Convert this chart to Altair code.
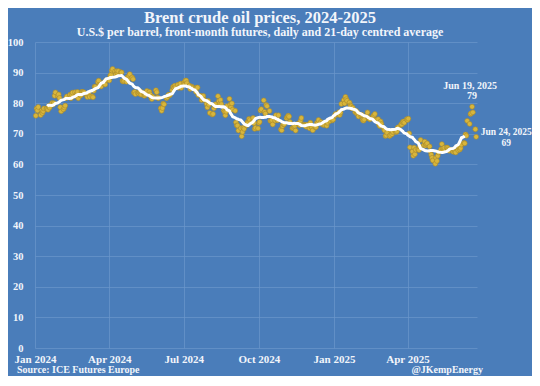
import altair as alt
import pandas as pd

# ---- data: Brent front-month daily settlements ----
DAYS_2024 = [
    "01-02","01-03","01-04","01-05","01-08","01-09","01-10","01-11","01-12","01-15","01-16","01-17","01-18","01-19","01-22","01-23","01-24","01-25","01-26","01-29","01-30","01-31",
    "02-01","02-02","02-05","02-06","02-07","02-08","02-09","02-12","02-13","02-14","02-15","02-16","02-19","02-20","02-21","02-22","02-23","02-26","02-27","02-28","02-29",
    "03-01","03-04","03-05","03-06","03-07","03-08","03-11","03-12","03-13","03-14","03-15","03-18","03-19","03-20","03-21","03-22","03-25","03-26","03-27","03-28",
    "04-01","04-02","04-03","04-04","04-05","04-08","04-09","04-10","04-11","04-12","04-15","04-16","04-17","04-18","04-19","04-22","04-23","04-24","04-25","04-26","04-29","04-30",
    "05-01","05-02","05-03","05-06","05-07","05-08","05-09","05-10","05-13","05-14","05-15","05-16","05-17","05-20","05-21","05-22","05-23","05-24","05-28","05-29","05-30","05-31",
    "06-03","06-04","06-05","06-06","06-07","06-10","06-11","06-12","06-13","06-14","06-17","06-18","06-19","06-20","06-21","06-24","06-25","06-26","06-27","06-28",
    "07-01","07-02","07-03","07-04","07-05","07-08","07-09","07-10","07-11","07-12","07-15","07-16","07-17","07-18","07-19","07-22","07-23","07-24","07-25","07-26","07-29","07-30","07-31",
    "08-01","08-02","08-05","08-06","08-07","08-08","08-09","08-12","08-13","08-14","08-15","08-16","08-19","08-20","08-21","08-22","08-23","08-26","08-27","08-28","08-29","08-30",
    "09-02","09-03","09-04","09-05","09-06","09-09","09-10","09-11","09-12","09-13","09-16","09-17","09-18","09-19","09-20","09-23","09-24","09-25","09-26","09-27","09-30",
    "10-01","10-02","10-03","10-04","10-07","10-08","10-09","10-10","10-11","10-14","10-15","10-16","10-17","10-18","10-21","10-22","10-23","10-24","10-25","10-28","10-29","10-30","10-31",
    "11-01","11-04","11-05","11-06","11-07","11-08","11-11","11-12","11-13","11-14","11-15","11-18","11-19","11-20","11-21","11-22","11-25","11-26","11-27","11-28","11-29",
    "12-02","12-03","12-04","12-05","12-06","12-09","12-10","12-11","12-12","12-13","12-16","12-17","12-18","12-19","12-20","12-23","12-24","12-27","12-30","12-31",
]
PRICES_2024 = [
    75.89,78.25,77.59,78.76,76.12,77.59,76.80,77.41,78.29,78.15,78.29,77.88,79.10,78.56,80.06,79.55,80.04,82.43,83.55,82.40,82.87,81.71,
    78.70,77.33,77.99,78.59,79.21,81.63,82.19,82.00,82.77,81.60,82.86,83.47,83.56,82.34,83.03,83.67,81.62,82.53,83.65,83.68,83.62,
    83.55,82.80,82.04,82.96,82.96,82.08,82.21,81.92,84.03,85.42,85.34,86.89,87.38,85.95,85.78,85.43,86.75,86.25,86.09,87.48,
    87.42,88.92,89.35,90.65,91.17,90.38,89.42,90.48,89.74,90.45,90.10,90.02,87.29,87.11,87.29,87.00,88.42,88.02,89.01,89.50,88.40,87.86,
    83.44,83.67,82.96,83.33,83.16,83.58,83.88,82.79,83.36,82.38,82.75,83.27,83.98,83.71,82.88,81.90,81.36,82.12,84.22,83.60,81.86,81.62,
    78.36,77.52,78.41,79.87,79.62,81.63,81.92,82.60,82.75,82.62,84.25,85.33,85.07,85.71,85.24,86.01,85.01,85.25,86.39,85.00,
    86.60,86.24,87.34,87.43,86.54,85.75,84.66,85.08,85.40,85.03,84.85,83.73,85.08,85.11,82.63,82.40,81.01,81.71,82.37,81.13,79.78,78.63,80.72,
    79.52,76.81,76.30,76.48,78.33,79.16,79.66,82.30,80.69,79.76,81.04,79.68,77.66,77.20,76.05,77.22,79.02,81.43,79.55,78.65,79.94,77.90,
    77.52,73.75,72.70,72.69,71.06,71.84,69.19,70.61,71.97,71.61,72.75,73.70,73.65,74.88,74.49,73.90,75.17,73.46,71.60,71.98,71.77,
    73.56,73.90,77.62,78.05,80.93,77.18,76.58,79.40,79.04,77.46,74.25,74.22,74.45,73.06,74.29,76.04,74.96,74.38,76.05,71.42,71.12,72.55,73.16,
    73.10,75.08,75.53,75.92,75.63,73.87,71.83,71.89,72.28,72.56,71.04,73.30,73.31,72.81,74.23,75.17,73.01,72.81,72.83,72.28,72.94,
    71.83,73.62,72.31,72.09,71.12,72.14,72.19,73.52,73.41,74.49,73.91,73.19,73.39,72.88,72.94,72.63,73.58,74.17,74.39,74.64,
]
DAYS_2025 = [
    "01-02","01-03","01-06","01-07","01-08","01-09","01-10","01-13","01-14","01-15","01-16","01-17","01-20","01-21","01-22","01-23","01-24","01-27","01-28","01-29","01-30","01-31",
    "02-03","02-04","02-05","02-06","02-07","02-10","02-11","02-12","02-13","02-14","02-17","02-18","02-19","02-20","02-21","02-24","02-25","02-26","02-27","02-28",
    "03-03","03-04","03-05","03-06","03-07","03-10","03-11","03-12","03-13","03-14","03-17","03-18","03-19","03-20","03-21","03-24","03-25","03-26","03-27","03-28","03-31",
    "04-01","04-02","04-03","04-04","04-07","04-08","04-09","04-10","04-11","04-14","04-15","04-16","04-17","04-21","04-22","04-23","04-24","04-25","04-28","04-29","04-30",
    "05-01","05-02","05-05","05-06","05-07","05-08","05-09","05-12","05-13","05-14","05-15","05-16","05-19","05-20","05-21","05-22","05-23","05-27","05-28","05-29","05-30",
    "06-02","06-03","06-04","06-05","06-06","06-09","06-10","06-11","06-12","06-13","06-16","06-17","06-18","06-19","06-20","06-23","06-24",
]
PRICES_2025 = [
    75.93,76.51,76.30,77.05,76.16,76.92,79.76,81.01,79.92,82.03,81.29,80.79,80.15,79.29,79.00,78.29,78.50,77.08,77.49,76.58,76.87,75.67,
    75.96,76.20,74.61,74.29,74.66,75.87,77.00,75.18,75.02,74.74,75.22,75.84,76.04,76.48,74.43,74.78,73.02,72.53,74.04,73.18,
    71.62,71.04,69.30,69.46,70.36,69.28,69.56,70.95,69.88,70.58,71.07,70.56,70.78,72.00,72.16,73.00,73.02,73.79,74.03,73.63,74.74,
    74.49,74.95,70.14,65.58,64.21,62.82,65.48,63.33,64.76,64.88,64.67,65.85,67.96,66.26,67.44,66.12,66.55,66.87,65.86,64.25,63.12,
    62.13,61.29,60.23,62.15,61.12,62.84,63.91,64.96,66.63,65.09,64.53,65.41,65.54,65.38,64.91,64.44,64.78,64.09,64.90,64.15,63.90,
    64.63,65.63,64.86,65.34,66.47,67.04,66.87,69.77,69.36,74.23,73.23,76.45,76.70,78.85,77.01,71.48,69.00,
]

ANNOT_DATES = ["2025-06-19", "2025-06-24"]
ANNOT_DATE_LABELS = ["Jun 19, 2025", "Jun 24, 2025"]
ANNOT_VALUES = [79, 69]

TITLE = "Brent crude oil prices, 2024-2025"
SUBTITLE = "U.S.$ per barrel, front-month futures, daily and 21-day centred average"
SOURCE = "Source: ICE Futures Europe"
CREDIT = "@JKempEnergy"

# ---- frames ----
dates = ["2024-" + d for d in DAYS_2024] + ["2025-" + d for d in DAYS_2025]
prices = PRICES_2024 + PRICES_2025
df = pd.DataFrame({"date": dates, "price": prices})
ann = pd.DataFrame({"date": ANNOT_DATES, "label": ANNOT_DATE_LABELS, "value": ANNOT_VALUES})
ann["vtxt"] = [str(v) for v in ANNOT_VALUES]

BG = "#4a7dba"
GRID = "#6c97cb"
FONT = "Liberation Serif"
WHITE = "#f2f5fa"

xscale = alt.Scale(type="utc",
                   domain=[alt.DateTime(year=2024, month=1, date=1, utc=True),
                           alt.DateTime(year=2025, month=6, date=25, utc=True)])
yscale = alt.Scale(domain=[0, 100])
xticks = [alt.DateTime(year=y, month=m, date=1, utc=True)
          for (y, m) in [(2024, 1), (2024, 4), (2024, 7), (2024, 10), (2025, 1), (2025, 4)]]

xaxis = alt.Axis(values=xticks, labelExpr="utcFormat(datum.value, '%b %Y')", grid=True,
                 labelFlush=False, labelAlign="center", labelPadding=5, labelFontSize=11,
                 labelOverlap=False, ticks=False, domain=False)
yaxis = alt.Axis(values=list(range(0, 101, 10)), grid=True, ticks=False,
                 labelOverlap=False, domain=False, labelPadding=12)


def X():
    return alt.X("date:T", scale=xscale, title=None, axis=xaxis)


def Y(field):
    return alt.Y(field, scale=yscale, title=None, axis=yaxis)


base = alt.Chart(df)

points = base.mark_circle(size=24, color="#d8b63c", opacity=1,
                          stroke="#a98a2a", strokeWidth=0.6).encode(x=X(), y=Y("price:Q"))

avg = base.transform_window(
    avg="mean(price)", n="count()", frame=[-10, 10], sort=[alt.SortField("date")]
).transform_filter("datum.n == 21").mark_line(
    color="white", strokeWidth=3
).encode(x=X(), y=Y("avg:Q"))

ann_base = alt.Chart(ann)
a1 = ann_base.transform_filter(alt.datum.label == "Jun 19, 2025").mark_text(
    font=FONT, fontWeight="bold", fontSize=10, color=WHITE, dy=-20, dx=-2
).encode(x=X(), y=Y("value:Q"), text="label:N")
a1v = ann_base.transform_filter(alt.datum.label == "Jun 19, 2025").mark_text(
    font=FONT, fontWeight="bold", fontSize=10, color=WHITE, dy=-10, dx=0
).encode(x=X(), y=Y("value:Q"), text="vtxt:N")
a2 = ann_base.transform_filter(alt.datum.label == "Jun 24, 2025").mark_text(
    font=FONT, fontWeight="bold", fontSize=9.5, color=WHITE, dy=-5, dx=30
).encode(x=X(), y=Y("value:Q"), text="label:N")
a2v = ann_base.transform_filter(alt.datum.label == "Jun 24, 2025").mark_text(
    font=FONT, fontWeight="bold", fontSize=9.5, color=WHITE, dy=6, dx=30
).encode(x=X(), y=Y("value:Q"), text="vtxt:N")

foot = pd.DataFrame({"t": [SOURCE, CREDIT]})
src = alt.Chart(foot).transform_filter(alt.datum.t == SOURCE).mark_text(
    font=FONT, fontWeight="bold", fontSize=10, color=WHITE, align="left", baseline="middle"
).encode(x=alt.value(-18), y=alt.value(328), text="t:N")
cred = alt.Chart(foot).transform_filter(alt.datum.t == CREDIT).mark_text(
    font=FONT, fontWeight="bold", fontSize=10, color=WHITE, align="right", baseline="middle"
).encode(x=alt.value(448), y=alt.value(328), text="t:N")

chart = alt.layer(points, avg, a1, a1v, a2, a2v, src, cred).properties(
    width=442, height=306,
    autosize=alt.AutoSizeParams(type="none"),
    padding={"left": 27, "top": 34, "right": 55, "bottom": 28},
    title=alt.TitleParams(TITLE, subtitle=SUBTITLE, anchor="middle", font=FONT,
                          fontSize=16.5, fontWeight="bold", color=WHITE,
                          subtitleFont=FONT, subtitleFontSize=12, subtitleFontWeight="bold",
                          subtitleColor=WHITE, subtitlePadding=1, offset=-1, dx=4),
).configure(background=BG).configure_view(stroke=None).configure_axis(
    gridColor=GRID, gridWidth=0.7, labelColor=WHITE, labelFont=FONT,
    labelFontWeight="bold", labelFontSize=10.5
)

chart.save("out.html", embed_options={"renderer": "svg", "actions": False})
